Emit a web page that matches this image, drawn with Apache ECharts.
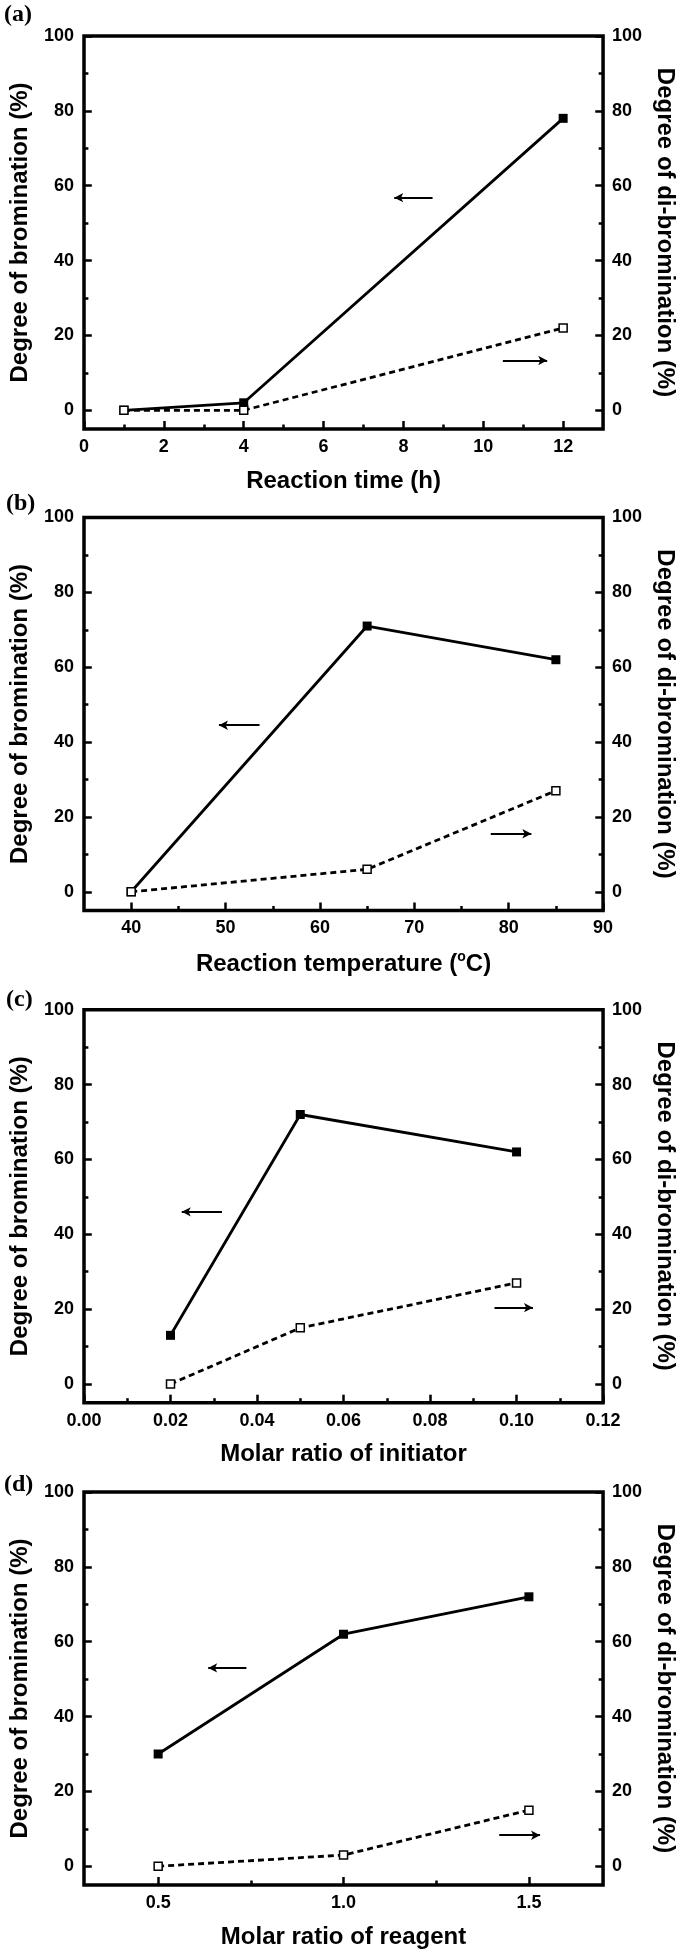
<!DOCTYPE html>
<html><head><meta charset="utf-8">
<script src="https://cdn.jsdelivr.net/npm/echarts@6/dist/echarts.min.js"></script>
<style>html,body{margin:0;padding:0;background:#fff}#c{width:685px;height:1957px}</style>
</head><body><div id="c"></div>
<script>
// ---- data ----
// (a) reaction time
const timeH = [1, 4, 12];
const bromA = [0, 2, 78];
const diA = [0, 0, 22];
// (b) reaction temperature
const tempC = [40, 65, 85];
const bromB = [0, 71, 62];
const diB = [0, 6, 27];
// (c) molar ratio of initiator
const initRatio = [0.02, 0.05, 0.10];
const bromC = [13, 72, 62];
const diC = [0, 15, 27];
// (d) molar ratio of reagent
const reagentRatio = [0.5, 1.0, 1.5];
const bromD = [30, 62, 72];
const diD = [0, 3, 15];

// tick values
const yMajor = [0, 20, 40, 60, 80, 100];
const yMinor = [10, 30, 50, 70, 90];
const xMajorA = [0, 2, 4, 6, 8, 10, 12];
const xMinorA = [1, 3, 5, 7, 9, 11];
const xMajorB = [40, 50, 60, 70, 80, 90];
const xMinorB = [45, 55, 65, 75, 85];
const xMajorC = [0, 0.02, 0.04, 0.06, 0.08, 0.10, 0.12];
const xMinorC = [0.01, 0.03, 0.05, 0.07, 0.09, 0.11];
const xMajorD = [0.5, 1.0, 1.5];
const xMinorD = [0.75, 1.25];

// arrow annotations (data coords): [xStart, xEnd, y]
const arrowsA = [[8.73, 7.77, 56.8], [10.49, 11.6, 13.3]];
const arrowsB = [[53.6, 49.3, 44.5], [78.1, 82.4, 15.5]];
const arrowsC = [[0.0319, 0.0226, 46], [0.0949, 0.1038, 20.4]];
const arrowsD = [[0.738, 0.635, 53], [1.42, 1.53, 8.3]];

const FONT = "'Liberation Sans', Arial, Helvetica, sans-serif";

const panels = [
  { tag: '(a)', x: timeH, b: bromA, d: diA, min: 0, max: 13, major: xMajorA, minor: xMinorA, dec: 0,
    name: 'Reaction time (h)', arrows: arrowsA, top: 36, lx: 4, ly: 16 },
  { tag: '(b)', x: tempC, b: bromB, d: diB, min: 35, max: 90, major: xMajorB, minor: xMinorB, dec: 0,
    name: '{n|Reaction temperature (}{s|o}{n|C)}', arrows: arrowsB, top: 517.5, lx: 6, ly: 505 },
  { tag: '(c)', x: initRatio, b: bromC, d: diC, min: 0, max: 0.12, major: xMajorC, minor: xMinorC, dec: 2,
    name: 'Molar ratio of initiator', arrows: arrowsC, top: 1009.7, lx: 6, ly: 1001 },
  { tag: '(d)', x: reagentRatio, b: bromD, d: diD, min: 0.3, max: 1.7, major: xMajorD, minor: xMinorD, dec: 1,
    name: 'Molar ratio of reagent', arrows: arrowsD, top: 1492, lx: 4, ly: 1486 }
];

const GRID_W = 533, GRID_H = 393, Y_MIN = -5, Y_MAX = 100;
const MAJ = 8, MIN = 4.5; // tick lengths in px

const grid = [], xAxis = [], yAxis = [], series = [], graphic = [];
const labelBase = { color: '#000', fontFamily: FONT, fontWeight: 'bold', fontSize: 18 };
const noLine = { show: false, onZero: false };

panels.forEach((p, g) => {
  grid.push({ left: 79, width: GRID_W, top: p.top, height: GRID_H, show: true,
    borderColor: '#000', borderWidth: 3.5, backgroundColor: 'transparent', containLabel: false });
  const xi = xAxis.length;
  xAxis.push({
    gridIndex: g, type: 'value', min: p.min, max: p.max, position: 'bottom',
    axisLine: noLine, splitLine: { show: false }, axisTick: { show: false },
    axisLabel: Object.assign({ margin: 9, customValues: p.major,
      formatter: v => Number(v).toFixed(p.dec) }, labelBase),
    name: p.name, nameLocation: 'middle', nameGap: 40,
    nameTextStyle: { color: '#000', fontFamily: FONT, fontWeight: 'bold', fontSize: 24,
      rich: { n: { fontFamily: FONT, fontWeight: 'bold', fontSize: 24, lineHeight: 28, color: '#000' },
              s: { fontFamily: FONT, fontWeight: 'bold', fontSize: 14, verticalAlign: 'top', lineHeight: 16, color: '#000' } } }
  });
  const yl = yAxis.length;
  yAxis.push({
    gridIndex: g, type: 'value', min: Y_MIN, max: Y_MAX, position: 'left',
    axisLine: noLine, splitLine: { show: false }, axisTick: { show: false },
    axisLabel: Object.assign({ margin: 10, customValues: yMajor }, labelBase),
    name: 'Degree of bromination (%)', nameLocation: 'middle', nameGap: 52, nameRotate: 90,
    nameTextStyle: { color: '#000', fontFamily: FONT, fontWeight: 'bold', fontSize: 24 }
  });
  const yr = yAxis.length;
  yAxis.push({
    gridIndex: g, type: 'value', min: Y_MIN, max: Y_MAX, position: 'right',
    axisLine: noLine, splitLine: { show: false }, axisTick: { show: false },
    axisLabel: Object.assign({ margin: 9, customValues: yMajor }, labelBase),
    name: 'Degree of di-bromination (%)', nameLocation: 'middle', nameGap: 44, nameRotate: -90,
    nameTextStyle: { color: '#000', fontFamily: FONT, fontWeight: 'bold', fontSize: 24 }
  });

  // inward ticks drawn as short marker segments in data space (through the axes' scales)
  const xu = (p.max - p.min) / GRID_W, yu = (Y_MAX - Y_MIN) / GRID_H;
  const seg = (a, b) => [{ coord: a }, { coord: b }];
  const ticks = [];
  yMajor.forEach(v => { ticks.push(seg([p.min, v], [p.min + MAJ * xu, v])); ticks.push(seg([p.max, v], [p.max - MAJ * xu, v])); });
  yMinor.forEach(v => { ticks.push(seg([p.min, v], [p.min + MIN * xu, v])); ticks.push(seg([p.max, v], [p.max - MIN * xu, v])); });
  p.major.forEach(v => ticks.push(seg([v, Y_MIN], [v, Y_MIN + MAJ * yu])));
  p.minor.forEach(v => ticks.push(seg([v, Y_MIN], [v, Y_MIN + MIN * yu])));
  series.push({
    type: 'line', name: 'ticks ' + p.tag, xAxisIndex: xi, yAxisIndex: yl, data: [],
    silent: true, z: 5,
    markLine: { silent: true, symbol: ['none', 'none'], animation: false, precision: 6,
      lineStyle: { color: '#000', width: 2.5, type: 'solid' }, label: { show: false },
      emphasis: { disabled: true }, data: ticks }
  });

  const arrowML = a => ({
    silent: true, symbol: ['none', 'arrow'], symbolSize: [7, 9], animation: false,
    lineStyle: { color: '#000', width: 2, type: 'solid' }, label: { show: false },
    emphasis: { disabled: true },
    data: [[{ coord: [a[0], a[2]] }, { coord: [a[1], a[2]] }]]
  });

  series.push({
    type: 'line', name: 'Degree of bromination ' + p.tag, xAxisIndex: xi, yAxisIndex: yl,
    data: p.x.map((v, i) => [v, p.b[i]]),
    symbol: 'rect', symbolSize: 9, showSymbol: true, z: 3,
    itemStyle: { color: '#000' }, lineStyle: { color: '#000', width: 2.8 },
    markLine: arrowML(p.arrows[0])
  });
  series.push({
    type: 'line', name: 'Degree of di-bromination ' + p.tag, xAxisIndex: xi, yAxisIndex: yr,
    data: p.x.map((v, i) => [v, p.d[i]]),
    symbol: 'rect', symbolSize: 8, showSymbol: true, z: 4,
    itemStyle: { color: '#fff', borderColor: '#000', borderWidth: 1.5 },
    lineStyle: { color: '#000', width: 2.8, type: [6, 4] },
    markLine: arrowML(p.arrows[1])
  });

  graphic.push({ type: 'text', left: p.lx, top: p.ly - 13,
    style: { text: p.tag, fill: '#000', font: "bold 24px 'Liberation Serif', 'Times New Roman', serif" } });
});

const chart = echarts.init(document.getElementById('c'), null, { renderer: 'canvas' });
chart.setOption({
  animation: false, backgroundColor: '#fff',
  grid, xAxis, yAxis, series, graphic,
  tooltip: { show: false }
});
</script></body></html>
